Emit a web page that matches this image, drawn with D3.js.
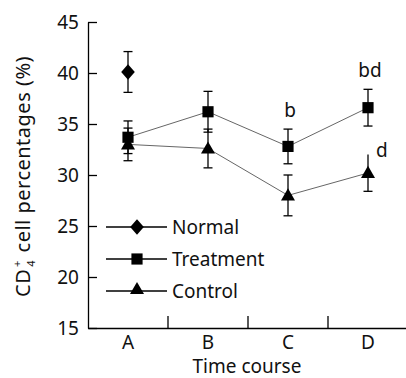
<!DOCTYPE html>
<html>
<head>
<meta charset="utf-8">
<script src="https://cdn.jsdelivr.net/npm/d3@7"></script>
<style>
  body { margin: 0; background: #fff; }
  svg { display: block; font-family: "Noto Sans", "DejaVu Sans", sans-serif; }
</style>
</head>
<body>
<svg width="406" height="378"></svg>
<script>
// data
const categories = ["A", "B", "C", "D"];
const normalMean = [40.1];
const normalErr = [2.0];
const treatmentMean = [33.7, 36.2, 32.8, 36.6];
const treatmentErr = [1.6, 2.0, 1.7, 1.8];
const controlMean = [33.0, 32.6, 28.0, 30.2];
const controlErr = [1.6, 1.9, 2.0, 1.8];
const yTicks = [15, 20, 25, 30, 35, 40, 45];
const sigTreatment = [null, null, "b", "bd"];
const sigControl = [null, null, null, "d"];

const svg = d3.select("svg");
const fs = 19;

const x = d3.scaleBand().domain(categories).range([88, 408]).paddingInner(0).paddingOuter(0);
const y = d3.scaleLinear().domain([15, 45]).range([328, 22]);
const cx = c => x(c) + x.bandwidth() / 2;

// y axis, ticks pointing inwards
const yAxis = svg.append("g")
    .attr("transform", "translate(88,0)")
    .call(d3.axisLeft(y).tickValues(yTicks).tickSize(-9).tickSizeOuter(0).tickPadding(9));
yAxis.select(".domain").attr("stroke", "#000").attr("stroke-width", 1.3);
yAxis.selectAll(".tick line").attr("stroke", "#000").attr("stroke-width", 1.3);
yAxis.selectAll(".tick text").attr("font-size", fs).attr("font-family", "Noto Sans").attr("fill", "#111");

// x axis
const xAxis = svg.append("g")
    .attr("transform", "translate(0,328)")
    .call(d3.axisBottom(x).tickSize(0).tickSizeOuter(0).tickPadding(8));
xAxis.select(".domain").attr("stroke", "#000").attr("stroke-width", 1.3);
xAxis.selectAll(".tick text").attr("font-size", fs).attr("font-family", "Noto Sans").attr("fill", "#111");
xAxis.selectAll(".sep")
    .data(categories.slice(1))
    .enter().append("line")
    .attr("x1", d => x(d)).attr("x2", d => x(d))
    .attr("y1", 0).attr("y2", -12)
    .attr("stroke", "#000").attr("stroke-width", 1.3);

// axis titles
svg.append("text")
    .attr("x", 247).attr("y", 373)
    .attr("text-anchor", "middle")
    .attr("font-size", fs).attr("fill", "#111")
    .text("Time course");

const yt = svg.append("text")
    .attr("transform", "translate(30,297) rotate(-90)")
    .attr("text-anchor", "start")
    .attr("font-size", 20)
    .attr("letter-spacing", 0.5)
    .attr("fill", "#111");
yt.append("tspan").text("CD");
yt.append("tspan").attr("font-size", 11).attr("dy", 5).attr("dx", 2).text("4");
yt.append("tspan").attr("font-size", 11).attr("dy", -14).attr("dx", -7).text("+");
yt.append("tspan").attr("dy", 9).attr("dx", 2).text(" cell percentages (%)");

// symbols
const diamondType = {
  draw(ctx, size) {
    const w = Math.sqrt(size) * 0.68, h = Math.sqrt(size) * 0.78;
    ctx.moveTo(0, -h); ctx.lineTo(w, 0); ctx.lineTo(0, h); ctx.lineTo(-w, 0); ctx.closePath();
  }
};
const diamond = d3.symbol().type(diamondType).size(100);
const square = d3.symbol().type(d3.symbolSquare).size(125);
const triangle = d3.symbol().type(d3.symbolTriangle).size(85);

function series(mean, err, sym, dyMark, noTopCap) {
  const pts = mean.map((m, i) => ({ c: categories[i], m: m, e: err[i], i: i }));
  const g = svg.append("g");
  if (pts.length > 1) {
    g.append("path")
      .datum(pts)
      .attr("fill", "none")
      .attr("stroke", "#666")
      .attr("stroke-width", 1)
      .attr("d", d3.line().x(d => cx(d.c)).y(d => y(d.m)));
  }
  const eb = g.selectAll(".eb").data(pts).enter().append("g")
    .attr("stroke", "#000").attr("stroke-width", 1.3);
  eb.append("line")
    .attr("x1", d => cx(d.c)).attr("x2", d => cx(d.c))
    .attr("y1", d => y(d.m - d.e)).attr("y2", d => y(d.m + d.e));
  eb.filter(d => !(noTopCap && noTopCap[d.i])).append("line")
    .attr("x1", d => cx(d.c) - 4.5).attr("x2", d => cx(d.c) + 4.5)
    .attr("y1", d => y(d.m + d.e)).attr("y2", d => y(d.m + d.e));
  eb.append("line")
    .attr("x1", d => cx(d.c) - 4.5).attr("x2", d => cx(d.c) + 4.5)
    .attr("y1", d => y(d.m - d.e)).attr("y2", d => y(d.m - d.e));
  g.selectAll(".pt").data(pts).enter().append("path")
    .attr("d", sym)
    .attr("transform", d => "translate(" + cx(d.c) + "," + (y(d.m) + dyMark) + ")")
    .attr("fill", "#000");
  return pts;
}

series(controlMean, controlErr, triangle, 1, [false, false, false, true]);
series(treatmentMean, treatmentErr, square, 0);
series(normalMean, normalErr, diamond, 0);

// significance letters
svg.selectAll(".sigT").data(categories.map((c, i) => ({ c: c, t: sigTreatment[i], i: i })).filter(d => d.t))
  .enter().append("text")
  .attr("x", d => cx(d.c) + 2)
  .attr("y", d => y(treatmentMean[d.i] + treatmentErr[d.i]) - 12)
  .attr("text-anchor", "middle")
  .attr("font-size", fs).attr("fill", "#111")
  .text(d => d.t);
svg.selectAll(".sigC").data(categories.map((c, i) => ({ c: c, t: sigControl[i], i: i })).filter(d => d.t))
  .enter().append("text")
  .attr("x", d => cx(d.c) + 8)
  .attr("y", d => y(controlMean[d.i] + controlErr[d.i]) + 2)
  .attr("font-size", fs).attr("fill", "#111")
  .text(d => d.t);

// legend
const legendNames = ["Normal", "Treatment", "Control"];
const legendSyms = [diamond, square, triangle];
const legendY = [227, 259, 291];
const lg = svg.append("g");
legendNames.forEach((n, i) => {
  lg.append("line")
    .attr("x1", 106).attr("x2", 167)
    .attr("y1", legendY[i]).attr("y2", legendY[i])
    .attr("stroke", "#000").attr("stroke-width", 1.3);
  lg.append("path")
    .attr("d", legendSyms[i])
    .attr("transform", "translate(137," + (legendY[i] + (i === 2 ? -1 : 0)) + ")")
    .attr("fill", "#000");
  lg.append("text")
    .attr("x", 172).attr("y", legendY[i] + 7)
    .attr("font-size", fs).attr("fill", "#111")
    .text(n);
});
</script>
</body>
</html>
